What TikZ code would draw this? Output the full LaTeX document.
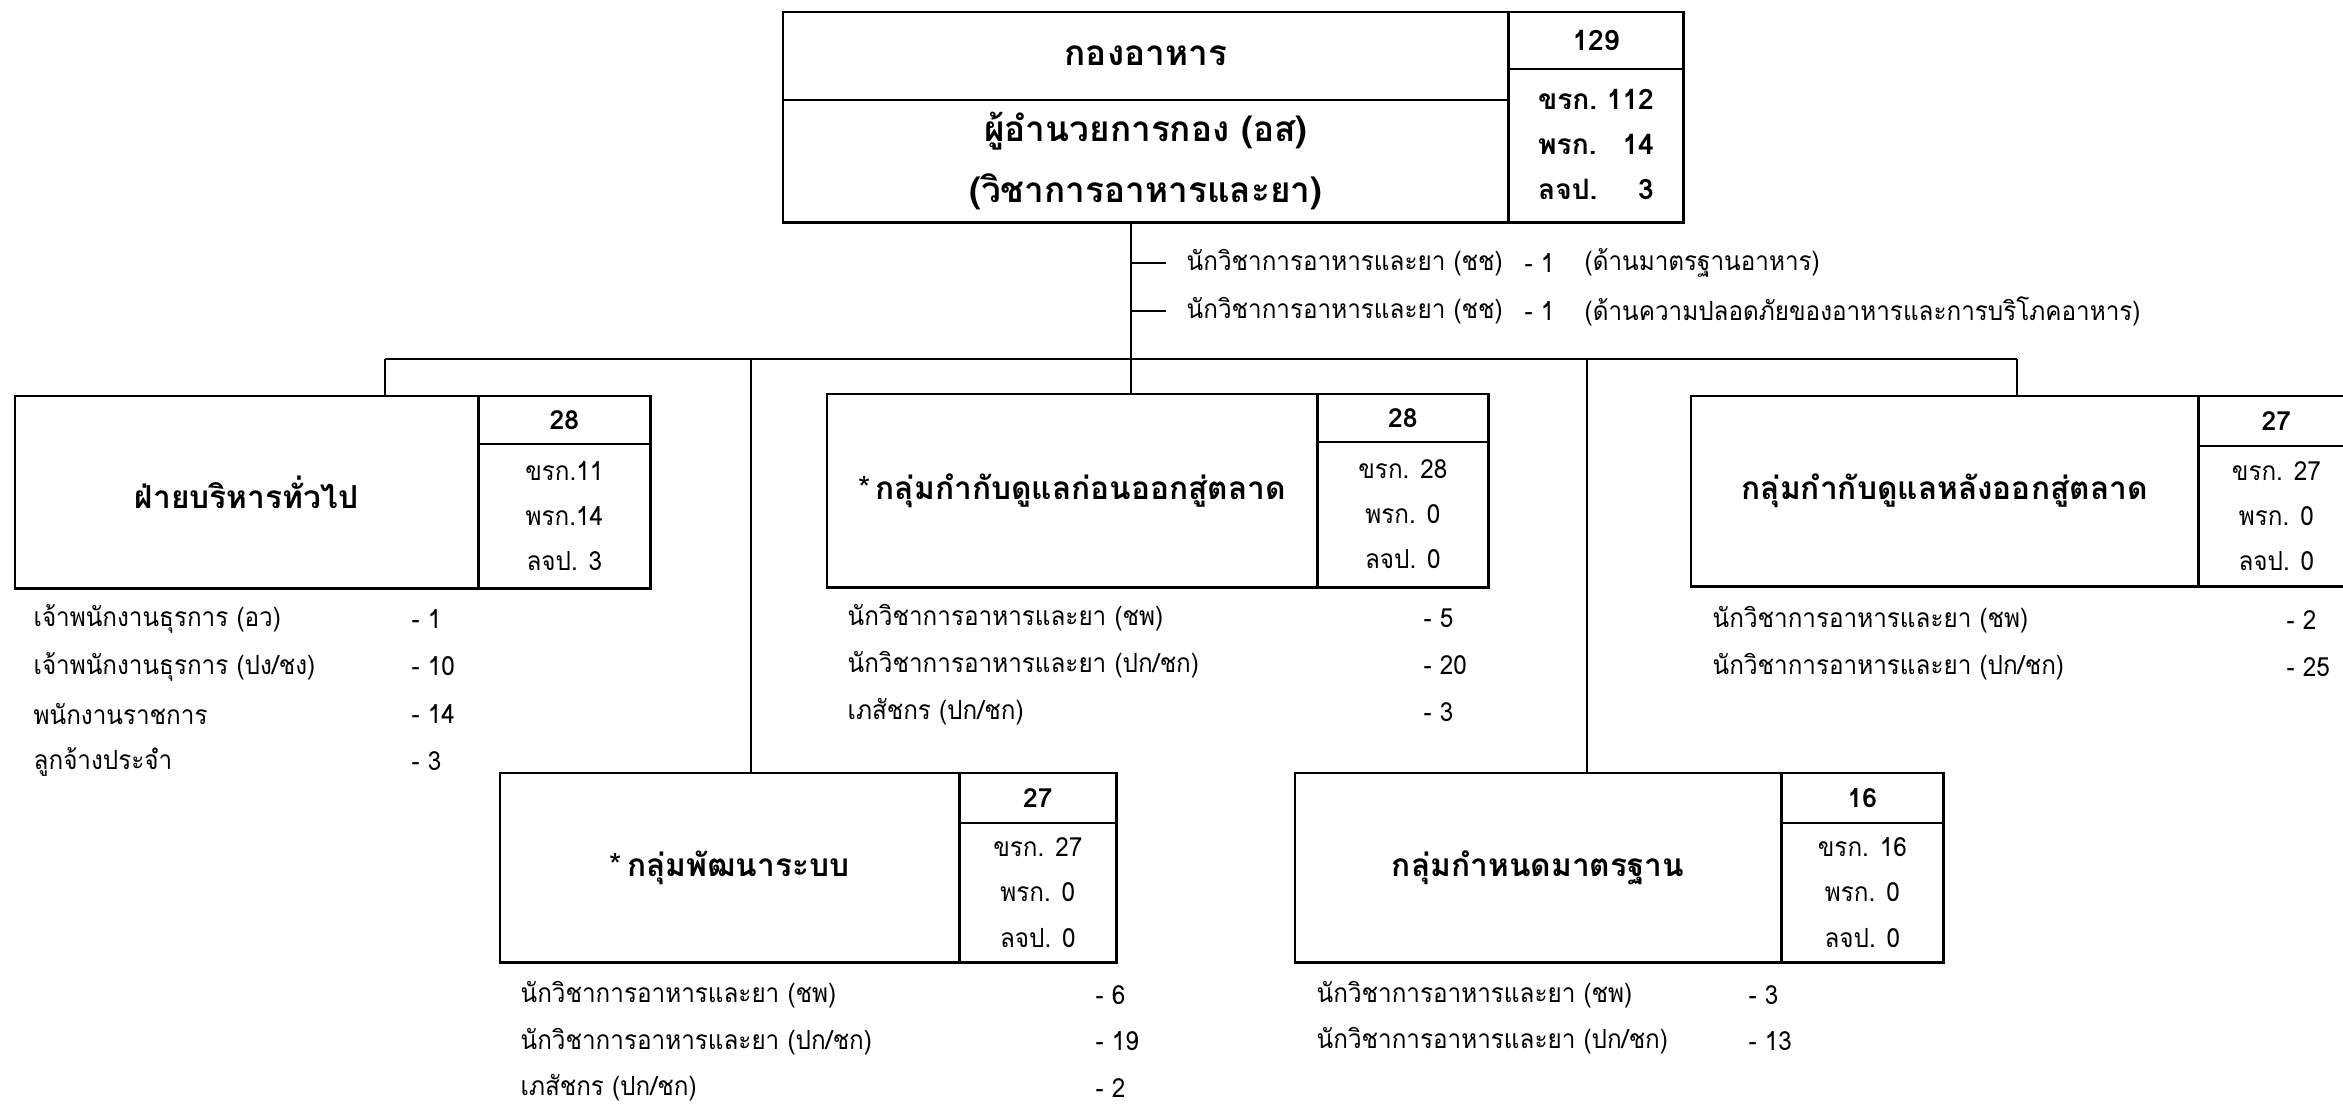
\documentclass[tikz,border=0pt]{standalone}
\usepackage{fontspec}
\setmainfont[Script=Thai]{Loma}
\newfontfamily\listfont[Script=Thai, FakeStretch=0.92]{Loma}
\usetikzlibrary{positioning, calc}

\tikzset{
  unitbox/.style={draw, line width=0.8pt, inner sep=0pt, outer sep=0pt, align=center, font=\bfseries\fontsize{9}{11}\selectfont},
  headbox/.style={unitbox, font=\bfseries\fontsize{10}{17.4}\selectfont},
  countbox/.style={draw, line width=0.8pt, inner sep=0pt, outer sep=0pt, align=center, font=\listfont\fontsize{7.5}{12.8}\selectfont},
  totalbox/.style={countbox, font=\bfseries\fontsize{7.5}{9}\selectfont},
  listitem/.style={anchor=west, inner sep=0pt, font=\listfont\fontsize{7.5}{9}\selectfont},
  link/.style={line width=0.7pt}
}

\begin{document}
\begin{tikzpicture}[x=0.01cm, y=-0.01cm]
\useasboundingbox (0,0) rectangle (2343,1105);
\clip (0,0) rectangle (2343,1105);

% head of division
\node[headbox, minimum width=7.25cm, minimum height=0.88cm, anchor=north west] (division) at (783,12) {กองอาหาร};
\node[headbox, minimum width=7.25cm, minimum height=1.22cm, anchor=north] (director) at (division.south) {ผู้อำนวยการกอง (อส)\\(วิชาการอาหารและยา)};
\node[totalbox, font=\bfseries\fontsize{8}{9}\selectfont, minimum width=1.75cm, minimum height=0.57cm, anchor=north west] (division-total) at (division.north east) {129};
\node[countbox, font=\bfseries\fontsize{8}{12.8}\selectfont, minimum width=1.75cm, minimum height=1.53cm, anchor=north] (division-count) at (division-total.south)
  {\begin{tabular}{@{}l@{\ }r@{}}ขรก. & 112\\ พรก. & 14\\ ลจป. & 3\end{tabular}};

% bus
\coordinate (trunk) at (1131,359);
\coordinate (busA) at (385,359);
\coordinate (busC) at (2017,359);
\coordinate (busD) at (751,359);
\coordinate (busE) at (1587,359);

% advisors on the trunk
\foreach \area [count=\i] in {ด้านมาตรฐานอาหาร, ด้านความปลอดภัยของอาหารและการบริโภคอาหาร}{
  \node[listitem] (advisor\i) at (1186,{215+48*\i}) {นักวิชาการอาหารและยา (ชช)};
  \node[listitem] (advisor\i-num) at (1524,{215+48*\i}) {- 1};
  \node[listitem] (advisor\i-area) at (1584,{215+48*\i}) {(\area)};
}

% units
\node[unitbox, minimum width=4.63cm, minimum height=1.92cm, anchor=north west] (admin) at (15,396) {ฝ่ายบริหารทั่วไป};
\node[totalbox, minimum width=1.72cm, minimum height=0.48cm, anchor=north west] (admin-total) at (admin.north east) {28};
\node[countbox, minimum width=1.72cm, minimum height=1.44cm, anchor=north] (admin-count) at (admin-total.south) {ขรก.11\\พรก.14\\ลจป. 3};

\node[unitbox, minimum width=4.90cm, minimum height=1.93cm, anchor=north west] (premarket) at (827,394) {{\mdseries\small *}\,กลุ่มกำกับดูแลก่อนออกสู่ตลาด};
\node[totalbox, minimum width=1.71cm, minimum height=0.48cm, anchor=north west] (premarket-total) at (premarket.north east) {28};
\node[countbox, minimum width=1.71cm, minimum height=1.45cm, anchor=north] (premarket-count) at (premarket-total.south) {ขรก. 28\\พรก. 0\\ลจป. 0};

\node[unitbox, minimum width=5.07cm, minimum height=1.90cm, anchor=north west] (postmarket) at (1691,396) {กลุ่มกำกับดูแลหลังออกสู่ตลาด};
\node[totalbox, minimum width=1.56cm, minimum height=0.50cm, anchor=north west] (postmarket-total) at (postmarket.north east) {27};
\node[countbox, minimum width=1.56cm, minimum height=1.40cm, anchor=north] (postmarket-count) at (postmarket-total.south) {ขรก. 27\\พรก. 0\\ลจป. 0};

\node[unitbox, minimum width=4.59cm, minimum height=1.89cm, anchor=north west] (system) at (500,773) {{\mdseries\small *}\,กลุ่มพัฒนาระบบ};
\node[totalbox, minimum width=1.57cm, minimum height=0.50cm, anchor=north west] (system-total) at (system.north east) {27};
\node[countbox, minimum width=1.57cm, minimum height=1.39cm, anchor=north] (system-count) at (system-total.south) {ขรก. 27\\พรก. 0\\ลจป. 0};

\node[unitbox, minimum width=4.86cm, minimum height=1.89cm, anchor=north west] (standard) at (1295,773) {กลุ่มกำหนดมาตรฐาน};
\node[totalbox, minimum width=1.62cm, minimum height=0.50cm, anchor=north west] (standard-total) at (standard.north east) {16};
\node[countbox, minimum width=1.62cm, minimum height=1.39cm, anchor=north] (standard-count) at (standard-total.south) {ขรก. 16\\พรก. 0\\ลจป. 0};

% connectors
\draw[link] (trunk |- director.south) -- (trunk |- premarket.north);
\foreach \i in {1,2}
  \draw[link] (trunk |- advisor\i.west) -- ([xshift=-0.2cm]advisor\i.west);
\draw[link] (busA) -- (busC);
\draw[link] (busA) -- (busA |- admin.north);
\draw[link] (busC) -- (busC |- postmarket.north);
\draw[link] (busD) -- (busD |- system.north);
\draw[link] (busE) -- (busE |- standard.north);

% staff lists
\foreach \job/\num [count=\i from 0] in {{เจ้าพนักงานธุรการ (อว)}/1, {เจ้าพนักงานธุรการ (ปง/ชง)}/10, พนักงานราชการ/14, ลูกจ้างประจำ/3}{
  \node[listitem] (admin-job\i) at (33,{619+47.5*\i}) {\job};
  \node[listitem] (admin-num\i) at (411,{619+47.5*\i}) {- \num};
}
\foreach \job/\num [count=\i from 0] in {{นักวิชาการอาหารและยา (ชพ)}/5, {นักวิชาการอาหารและยา (ปก/ชก)}/20, {เภสัชกร (ปก/ชก)}/3}{
  \node[listitem] (premarket-job\i) at (847,{618+47*\i}) {\job};
  \node[listitem] (premarket-num\i) at (1423,{618+47*\i}) {- \num};
}
\foreach \job/\num [count=\i from 0] in {{นักวิชาการอาหารและยา (ชพ)}/2, {นักวิชาการอาหารและยา (ปก/ชก)}/25}{
  \node[listitem] (postmarket-job\i) at (1712,{620+47*\i}) {\job};
  \node[listitem] (postmarket-num\i) at (2286,{620+47*\i}) {- \num};
}
\foreach \job/\num [count=\i from 0] in {{นักวิชาการอาหารและยา (ชพ)}/6, {นักวิชาการอาหารและยา (ปก/ชก)}/19, {เภสัชกร (ปก/ชก)}/2}{
  \node[listitem] (system-job\i) at (520,{995+46.5*\i}) {\job};
  \node[listitem] (system-num\i) at (1095,{995+46.5*\i}) {- \num};
}
\foreach \job/\num [count=\i from 0] in {{นักวิชาการอาหารและยา (ชพ)}/3, {นักวิชาการอาหารและยา (ปก/ชก)}/13}{
  \node[listitem] (standard-job\i) at (1316,{995+46*\i}) {\job};
  \node[listitem] (standard-num\i) at (1748,{995+46*\i}) {- \num};
}
\end{tikzpicture}
\end{document}
